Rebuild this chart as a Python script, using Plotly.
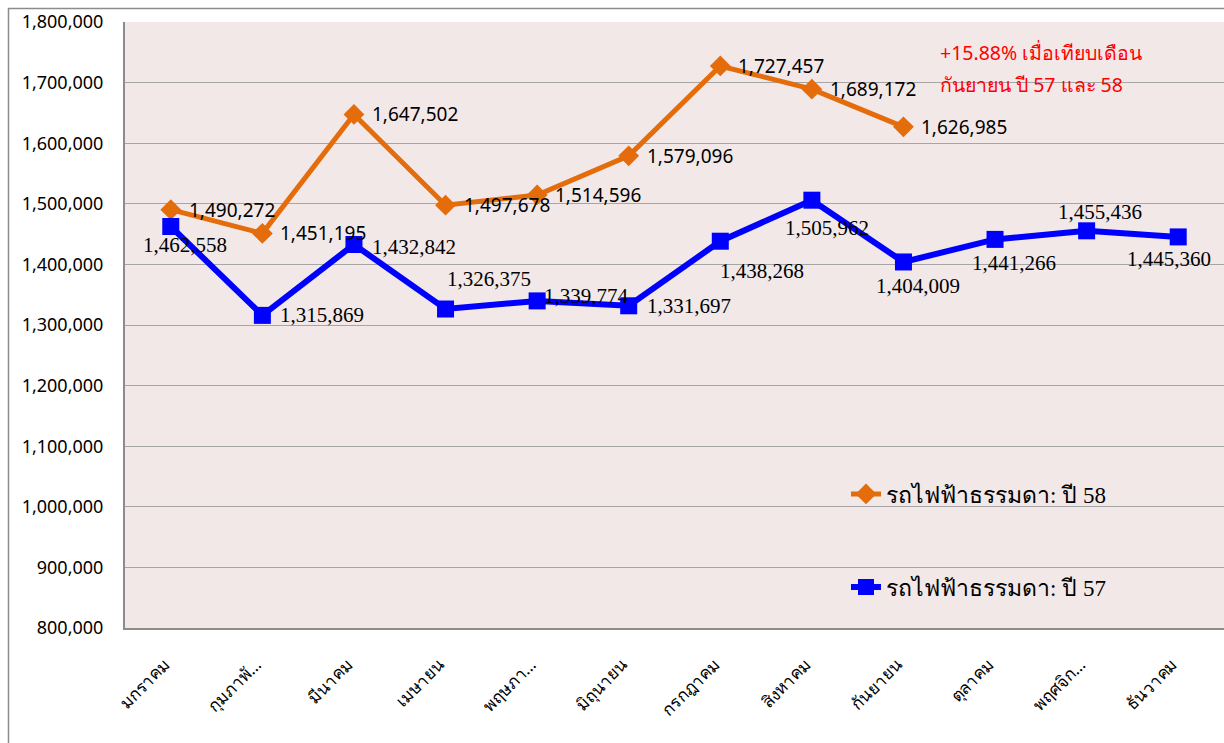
import plotly.graph_objects as go

months = ["มกราคม", "กุมภาพั…", "มีนาคม", "เมษายน", "พฤษภา…", "มิถุนายน",
          "กรกฎาคม", "สิงหาคม", "กันยายน", "ตุลาคม", "พฤศจิก…", "ธันวาคม"]
y58 = [1490272, 1451195, 1647502, 1497678, 1514596, 1579096, 1727457, 1689172, 1626985, None, None, None]
y57 = [1462558, 1315869, 1432842, 1326375, 1339774, 1331697, 1438268, 1505962, 1404009, 1441266, 1455436, 1445360]
name58 = "รถไฟฟ้าธรรมดา: ปี 58"
name57 = "รถไฟฟ้าธรรมดา: ปี 57"
note_lines = ["+15.88% เมื่อเทียบเดือน", "กันยายน ปี 57 และ 58"]
ytick_vals = list(range(800000, 1800001, 100000))

# label offsets (pixels) for the blue series labels (centre of label relative to point)
off57 = [(14, 19), (60, 0), (60, 2), (43, -30), (49, -5), (60, 0),
         (42, 30), (15, 28), (15, 24), (19, 24), (13, -19), (-9, 22)]

ORANGE = "#E46C0A"
BLUE = "#0000FF"
GRID = "#A6A6A6"
SERIF = "Liberation Serif, Times New Roman, serif"
SANS = "Noto Sans, Open Sans, sans-serif"

# page-pixel -> paper helpers (plot area spans x 125..1224, y 22..628 on the page)
def px(x):
    return (x - 125) / 1099

def py(y):
    return (628 - y) / 606

fig = go.Figure()
fig.add_trace(go.Scatter(
    x=months, y=y58, name=name58, mode="lines+markers",
    line=dict(color=ORANGE, width=5),
    marker=dict(symbol="diamond", size=16, color=ORANGE),
    legend="legend", cliponaxis=False,
))
fig.add_trace(go.Scatter(
    x=months, y=y57, name=name57, mode="lines+markers",
    line=dict(color=BLUE, width=6),
    marker=dict(symbol="square", size=17, color=BLUE),
    legend="legend2", cliponaxis=False,
))

for m, v in zip(months, y58):
    if v is None:
        continue
    fig.add_annotation(x=m, y=v, text=f"{v:,}", showarrow=False,
                       xanchor="left", xshift=16, yshift=0,
                       font=dict(family=SANS, size=19, color="#000000"))

for m, v, (dx, dy) in zip(months, y57, off57):
    fig.add_annotation(x=m, y=v, text=f"{v:,}", showarrow=False,
                       xshift=dx, yshift=-dy,
                       font=dict(family=SERIF, size=21, color="#000000"))

for line, ypix in zip(note_lines, [52, 85]):
    fig.add_annotation(xref="paper", yref="paper", x=px(938), y=py(ypix),
                       xanchor="left", yanchor="middle", align="left", showarrow=False,
                       text=line, font=dict(family=SANS, size=19.5, color="#FF0000"))

# outer chart frame
fig.add_shape(type="rect", xref="paper", yref="paper",
              x0=px(8.5), x1=1.02, y0=-0.4, y1=py(8.5),
              line=dict(color="#8C8C8C", width=1.5), fillcolor="rgba(0,0,0,0)", layer="below")

fig.update_layout(
    width=1224, height=743,
    margin=dict(l=125, r=0, t=22, b=115),
    paper_bgcolor="#FFFFFF",
    plot_bgcolor="#F2E8E8",
    font=dict(family=SANS, color="#000000"),
    showlegend=True,
    legend=dict(x=px(846), y=py(494), xanchor="left", yanchor="middle",
                bgcolor="rgba(0,0,0,0)",
                font=dict(family=SERIF, size=23, color="#000000")),
    legend2=dict(x=px(846), y=py(587), xanchor="left", yanchor="middle",
                 bgcolor="rgba(0,0,0,0)",
                 font=dict(family=SERIF, size=23, color="#000000")),
)
fig.update_xaxes(
    type="category", categoryorder="array", categoryarray=months,
    range=[-0.5, 11.5], tickangle=-45, showgrid=False,
    showline=True, linecolor="#8C8C8C", linewidth=2,
    ticks="", ticklabelstandoff=18, ticklabelshift=-6,
    tickfont=dict(family=SANS, size=17, color="#000000"),
)
fig.update_yaxes(
    range=[800000, 1800000], tickvals=ytick_vals,
    ticktext=[f"{v:,}" for v in ytick_vals],
    showgrid=True, gridcolor=GRID, gridwidth=1,
    showline=True, linecolor="#8C8C8C", linewidth=2,
    ticks="", zeroline=False, ticklabelstandoff=16,
    tickfont=dict(family=SANS, size=18, color="#000000"),
)

fig.write_html("out.html", config={"displayModeBar": False},
               post_script="document.body.style.margin='0';")
